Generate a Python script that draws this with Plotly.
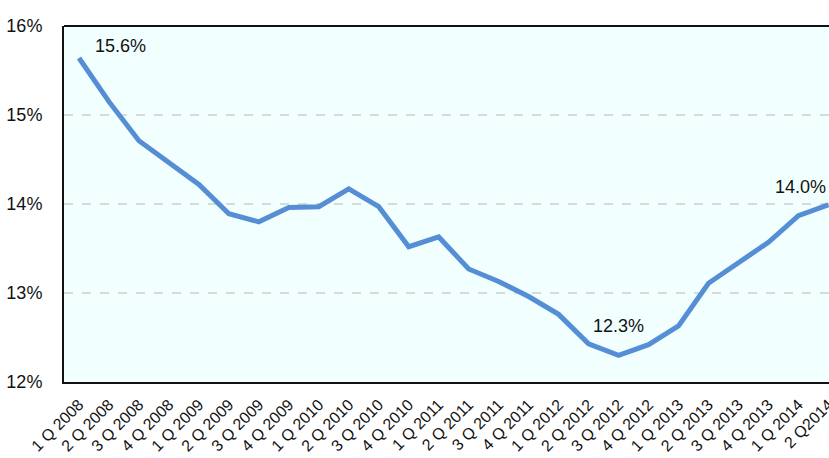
import plotly.graph_objects as go

quarters = [
    "1 Q 2008", "2 Q 2008", "3 Q 2008", "4 Q 2008",
    "1 Q 2009", "2 Q 2009", "3 Q 2009", "4 Q 2009",
    "1 Q 2010", "2 Q 2010", "3 Q 2010", "4 Q 2010",
    "1 Q 2011", "2 Q 2011", "3 Q 2011", "4 Q 2011",
    "1 Q 2012", "2 Q 2012", "3 Q 2012", "4 Q 2012",
    "1 Q 2013", "2 Q 2013", "3 Q 2013", "4 Q 2013",
    "1 Q 2014", "2 Q2014",
]
rate = [
    15.64, 15.15, 14.71, 14.46,
    14.22, 13.89, 13.80, 13.96,
    13.97, 14.17, 13.97, 13.52,
    13.63, 13.27, 13.13, 12.96,
    12.76, 12.43, 12.30, 12.42,
    12.63, 13.11, 13.34, 13.57,
    13.87, 13.99,
]
y_ticks = [12, 13, 14, 15, 16]
y_tick_text = ["12%", "13%", "14%", "15%", "16%"]

# points carrying a value label: (index, anchor, x shift, y shift)
labelled = [(0, "center", 42, 12), (18, "center", 0, 29), (25, "right", 0, 18)]

x_idx = list(range(len(quarters)))
FONT = "Liberation Sans, Arial, sans-serif"

fig = go.Figure()
fig.add_trace(go.Scatter(
    x=x_idx, y=rate, mode="lines",
    line=dict(color="#558ED5", width=5),
    hoverinfo="skip",
))

for i, anchor, dx, dy in labelled:
    fig.add_annotation(
        x=i, y=rate[i], xref="x", yref="y",
        text=f"{rate[i]:.1f}%", showarrow=False,
        xanchor=anchor, xshift=dx, yshift=dy,
        font=dict(family=FONT, size=18, color="#111111"),
    )

# frame line along the top of the plotting area
fig.add_shape(type="line", xref="paper", yref="paper",
              x0=0, x1=1, y0=1, y1=1,
              line=dict(color="#111111", width=2))

fig.update_layout(
    width=829, height=458,
    margin=dict(l=64, r=0, t=26, b=76),
    paper_bgcolor="white",
    plot_bgcolor="#F2FFFF",
    showlegend=False,
    font=dict(family=FONT, color="#111111"),
)
fig.update_xaxes(
    range=[-0.5, 25.02], automargin=False,
    tickmode="array", tickvals=x_idx, ticktext=quarters,
    tickangle=-45, tickfont=dict(size=16),
    ticklabeloverflow="allow",
    showgrid=False, zeroline=False,
    showline=True, linecolor="#111111", linewidth=2,
    ticks="", ticklabelstandoff=5,
)
fig.update_yaxes(
    range=[12, 16], automargin=False,
    tickmode="array", tickvals=y_ticks, ticktext=y_tick_text,
    tickfont=dict(size=18),
    showgrid=True, gridcolor="#D9D9D9", griddash="dash", gridwidth=2,
    zeroline=False,
    showline=True, linecolor="#111111", linewidth=2,
    ticks="", ticklabelstandoff=16,
)

fig.write_html("out.html")
